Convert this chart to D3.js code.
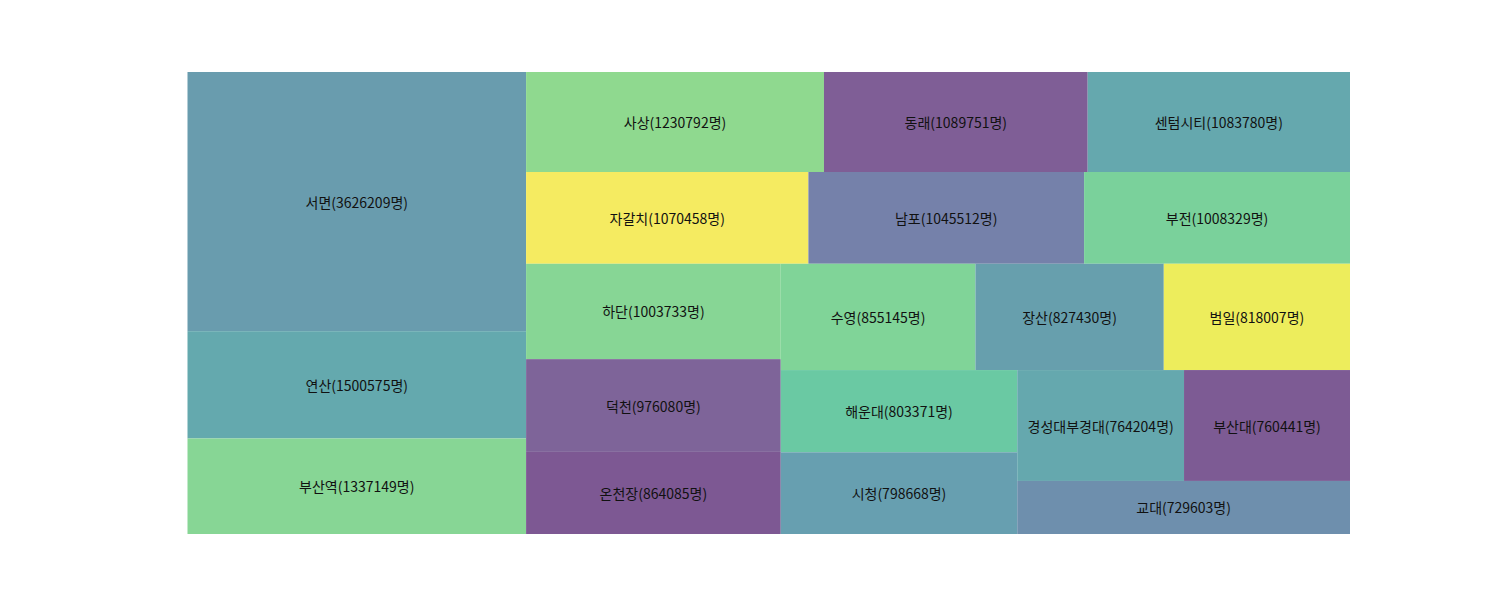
<!DOCTYPE html>
<html>
<head>
<meta charset="utf-8">
<script src="https://cdn.jsdelivr.net/npm/d3@7"></script>
<style>
  html, body { margin: 0; padding: 0; background: #fff; }
  svg { display: block; }
</style>
</head>
<body>
<svg id="chart" width="1500" height="600"></svg>
<script>
// ---- data ----
const stations = ["서면","연산","부산역","사상","동래","센텀시티","자갈치","남포","부전","하단",
                  "덕천","온천장","수영","장산","범일","해운대","시청","경성대부경대","부산대","교대"];
const riders = [3626209,1500575,1337149,1230792,1089751,1083780,1070458,1045512,1008329,1003733,
                976080,864085,855145,827430,818007,803371,798668,764204,760441,729603];
const colors = ["#699cae","#64a9ae","#87d695","#8fd98f","#7f5e96","#65a8ae","#f5eb61","#7581aa","#7ad19b","#87d695",
                "#7e6499","#7d5893","#80d498","#679fad","#eded5c","#6ac9a3","#679fb0","#65a8ae","#7d5b94","#6e8fad"];

// ---- squarify (same algorithm as python squarify), normalized 100x100 ----
function layoutrow(sizes, x, y, dx, dy) {
  const covered = d3.sum(sizes), width = covered / dy, rects = [];
  for (const s of sizes) { rects.push({x, y, dx: width, dy: s / width}); y += s / width; }
  return rects;
}
function layoutcol(sizes, x, y, dx, dy) {
  const covered = d3.sum(sizes), height = covered / dx, rects = [];
  for (const s of sizes) { rects.push({x, y, dx: s / height, dy: height}); x += s / height; }
  return rects;
}
function layout(sizes, x, y, dx, dy) { return dx >= dy ? layoutrow(sizes, x, y, dx, dy) : layoutcol(sizes, x, y, dx, dy); }
function leftover(sizes, x, y, dx, dy) {
  const covered = d3.sum(sizes);
  if (dx >= dy) { const w = covered / dy; return [x + w, y, dx - w, dy]; }
  const h = covered / dx; return [x, y + h, dx, dy - h];
}
function worst(sizes, x, y, dx, dy) {
  return d3.max(layout(sizes, x, y, dx, dy), r => Math.max(r.dx / r.dy, r.dy / r.dx));
}
function squarify(sizes, x, y, dx, dy) {
  if (sizes.length === 0) return [];
  if (sizes.length === 1) return layout(sizes, x, y, dx, dy);
  let i = 1;
  while (i < sizes.length && worst(sizes.slice(0, i), x, y, dx, dy) >= worst(sizes.slice(0, i + 1), x, y, dx, dy)) i++;
  const cur = sizes.slice(0, i), rem = sizes.slice(i);
  const [lx, ly, ldx, ldy] = leftover(cur, x, y, dx, dy);
  return layout(cur, x, y, dx, dy).concat(squarify(rem, lx, ly, ldx, ldy));
}

const N = 100;
const total = d3.sum(riders);
const norm = riders.map(v => v * N * N / total);
const rects = squarify(norm, 0, 0, N, N);

const xS = d3.scaleLinear().domain([0, N]).range([187.5, 1350]);
const yS = d3.scaleLinear().domain([0, N]).range([72, 534]);

const svg = d3.select("#chart");
const g = svg.append("g");
const cells = g.selectAll("g.cell").data(rects).join("g").attr("class", "cell");
cells.append("rect")
  .attr("x", d => xS(d.x))
  .attr("y", d => yS(d.y))
  .attr("width", d => xS(d.x + d.dx) - xS(d.x))
  .attr("height", d => yS(d.y + d.dy) - yS(d.y))
  .attr("fill", (d, i) => colors[i]);
cells.append("text")
  .attr("x", d => xS(d.x + d.dx / 2))
  .attr("y", d => yS(d.y + d.dy / 2))
  .attr("text-anchor", "middle")
  .attr("dominant-baseline", "central")
  .attr("font-family", "'Noto Sans CJK KR', 'Noto Sans', sans-serif")
  .attr("font-size", "14px")
  .style("font-variant-numeric", "tabular-nums")
  .attr("fill", "#111")
  .text((d, i) => `${stations[i]}(${riders[i]}명)`);
</script>
</body>
</html>
